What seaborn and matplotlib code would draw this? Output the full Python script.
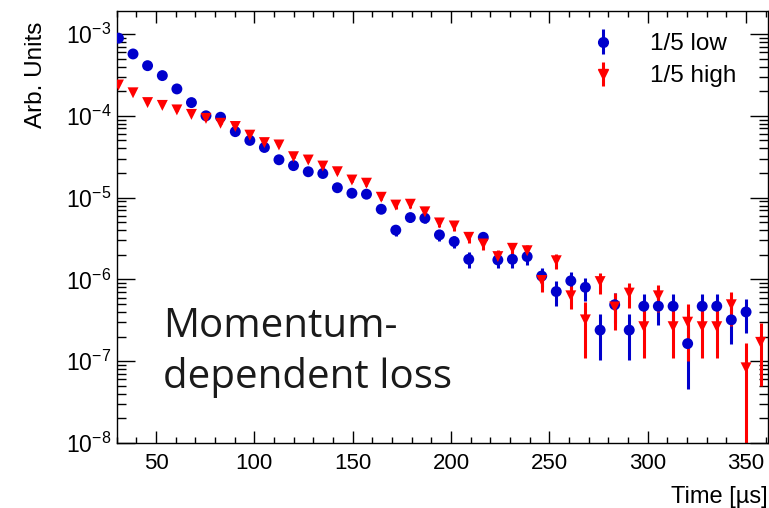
import numpy as np
import pandas as pd
import matplotlib
matplotlib.use("Agg")
import matplotlib.pyplot as plt
import matplotlib.ticker as mticker
import seaborn as sns

# ---- data ----
time_us = [30.9, 38.3, 45.7, 53.2, 60.6, 68.0, 75.4, 82.8, 90.3, 97.7,
           105.1, 112.5, 119.9, 127.4, 134.8, 142.2, 149.6, 157.0, 164.5, 171.9,
           179.3, 186.7, 194.1, 201.6, 209.0, 216.4, 223.8, 231.2, 238.7, 246.1,
           253.5, 260.9, 268.3, 275.8, 283.2, 290.6, 298.0, 305.4, 312.9, 320.3,
           327.7, 335.1, 342.5, 350.0, 357.4]

low_vals = [8.9e-4, 5.7e-4, 4.1e-4, 3.1e-4, 2.13e-4, 1.45e-4, 1.0e-4, 9.6e-5, 6.4e-5, 5.0e-5,
            4.1e-5, 2.9e-5, 2.46e-5, 2.07e-5, 1.97e-5, 1.32e-5, 1.13e-5, 1.10e-5, 7.2e-6, 4.0e-6,
            5.7e-6, 5.6e-6, 3.5e-6, 2.9e-6, 1.76e-6, 3.27e-6, 1.73e-6, 1.76e-6, 1.9e-6, 1.1e-6,
            7.1e-7, 9.6e-7, 8.0e-7, 2.4e-7, 4.9e-7, 2.4e-7, 4.7e-7, 4.7e-7, 4.7e-7, 1.64e-7,
            4.7e-7, 4.7e-7, 3.2e-7, 4.0e-7, np.nan]
low_errs = [8.4e-6, 6.7e-6, 5.7e-6, 4.9e-6, 4.1e-6, 3.4e-6, 2.8e-6, 2.75e-6, 2.25e-6, 2.0e-6,
            1.8e-6, 1.51e-6, 1.39e-6, 1.28e-6, 1.25e-6, 1.02e-6, 9.4e-7, 9.3e-7, 7.5e-7, 5.6e-7,
            6.7e-7, 6.6e-7, 5.3e-7, 4.8e-7, 3.73e-7, 5.08e-7, 3.7e-7, 3.73e-7, 3.87e-7, 2.95e-7,
            2.37e-7, 2.75e-7, 2.5e-7, 1.37e-7, 1.97e-7, 1.37e-7, 1.93e-7, 1.93e-7, 1.93e-7, 1.18e-7,
            1.93e-7, 1.93e-7, 1.59e-7, 1.78e-7, np.nan]

high_vals = [2.38e-4, 1.91e-4, 1.45e-4, 1.34e-4, 1.18e-4, 1.04e-4, 9.3e-5, 8.1e-5, 7.4e-5, 5.8e-5,
             4.7e-5, 4.4e-5, 3.16e-5, 2.88e-5, 2.43e-5, 2.07e-5, 1.64e-5, 1.50e-5, 1.01e-5, 8.1e-6,
             8.3e-6, 6.7e-6, 4.9e-6, 4.5e-6, 3.27e-6, 2.71e-6, 1.9e-6, 2.4e-6, 2.24e-6, 9.7e-7,
             1.69e-6, 6.3e-7, 3.2e-7, 9.4e-7, 4.6e-7, 6.8e-7, 2.64e-7, 6.3e-7, 2.64e-7, 3.0e-7,
             2.64e-7, 2.64e-7, 4.9e-7, 8.3e-8, 1.7e-7]
high_errs = [4.1e-6, 3.7e-6, 3.2e-6, 3.1e-6, 2.9e-6, 2.7e-6, 2.6e-6, 2.4e-6, 2.3e-6, 2.0e-6,
             1.8e-6, 1.75e-6, 1.5e-6, 1.4e-6, 1.3e-6, 1.2e-6, 1.07e-6, 1.02e-6, 8.4e-7, 7.5e-7,
             7.6e-7, 6.8e-7, 5.9e-7, 5.6e-7, 4.8e-7, 4.4e-7, 3.6e-7, 4.1e-7, 4.0e-7, 2.7e-7,
             3.6e-7, 1.9e-7, 2.1e-7, 2.7e-7, 2.2e-7, 2.3e-7, 1.56e-7, 2.3e-7, 1.56e-7, 2.0e-7,
             1.56e-7, 1.56e-7, 2.2e-7, 8.2e-8, 1.2e-7]

series_names = ["1/5 low", "1/5 high"]
series_colors = {"1/5 low": "#0000CC", "1/5 high": "#FF0000"}
series_markers = {"1/5 low": "o", "1/5 high": "v"}
x_label = "Time [\u00b5s]"
y_label = "Arb. Units"
note_lines = ["Momentum-", "dependent loss"]

# ---- style ----
sns.set_theme(style="ticks")
plt.rcParams["font.family"] = ["Liberation Sans", "DejaVu Sans"]
plt.rcParams["mathtext.default"] = "regular"
plt.rcParams["axes.linewidth"] = 1.0
plt.rcParams["text.color"] = "black"
plt.rcParams["axes.labelcolor"] = "black"
plt.rcParams["xtick.color"] = "black"
plt.rcParams["ytick.color"] = "black"
plt.rcParams["axes.edgecolor"] = "black"

df = pd.concat([
    pd.DataFrame({"t": time_us, "v": low_vals, "e": low_errs, "series": series_names[0]}),
    pd.DataFrame({"t": time_us, "v": high_vals, "e": high_errs, "series": series_names[1]}),
], ignore_index=True)

fig = plt.figure(figsize=(7.69, 5.08), dpi=100)
ax = fig.add_axes([116.7 / 769, 1 - 443 / 508, (767.7 - 116.7) / 769, (443 - 11) / 508])

for name in series_names:
    sub = df[df["series"] == name].dropna()
    ax.errorbar(sub["t"], sub["v"], yerr=sub["e"], fmt="none",
                ecolor=series_colors[name], elinewidth=2.2, capsize=0, zorder=2)

sns.scatterplot(data=df.dropna(), x="t", y="v", hue="series", style="series",
                hue_order=series_names, style_order=series_names,
                palette=series_colors, markers=series_markers,
                s=62, linewidth=0, edgecolor="none", legend=False, ax=ax, zorder=3)

ax.set_yscale("log")
ax.set_xlim(30, 361)
ax.set_ylim(1e-8, 1.91e-3)

ax.xaxis.set_major_locator(mticker.MultipleLocator(50))
ax.xaxis.set_minor_locator(mticker.MultipleLocator(10))
ax.yaxis.set_major_locator(mticker.LogLocator(base=10, numticks=12))
ax.yaxis.set_minor_locator(mticker.LogLocator(base=10, subs=np.arange(2, 10), numticks=12))
ax.yaxis.set_minor_formatter(mticker.NullFormatter())

ax.tick_params(axis="x", which="major", direction="in", length=8.6, width=1,
               top=True, bottom=True, labelsize=16, pad=7, color="black", labelcolor="black")
ax.tick_params(axis="x", which="minor", direction="in", length=4.5, width=1,
               top=True, bottom=True, color="black")
ax.tick_params(axis="y", which="major", direction="in", length=13, width=1,
               left=True, right=True, labelsize=16.5, pad=4, color="black", labelcolor="black")
ax.tick_params(axis="y", which="minor", direction="in", length=6.5, width=1,
               left=True, right=True, color="black")
for sp in ax.spines.values():
    sp.set_color("black")
    sp.set_visible(True)

ax.set_xlabel(x_label, loc="right", fontsize=17, labelpad=9, color="black")
ax.set_ylabel(y_label, loc="top", fontsize=17.5, color="black")
ax.yaxis.set_label_coords(-0.107, 0.975, transform=ax.transAxes)

# legend
handles = []
for name in series_names:
    h = ax.errorbar([np.nan], [np.nan], yerr=[np.nan], fmt=series_markers[name],
                    color=series_colors[name], ms=7, elinewidth=2.2, capsize=0,
                    label=name)
    handles.append(h)
leg = ax.legend(handles=handles, labels=series_names, loc="upper left",
                bbox_to_anchor=(586 / 769, 1 - 33 / 508), bbox_transform=fig.transFigure,
                frameon=False, fontsize=17.5, handlelength=1.4, handletextpad=1.25,
                labelspacing=0.42, borderpad=0, borderaxespad=0)
for t in leg.get_texts():
    t.set_color("black")

# annotation text
note_font = ["Open Sans", "DejaVu Sans"]
fig.text(163 / 769, 1 - 337 / 508, note_lines[0], fontsize=29, family=note_font,
         color="#1a1a1a", va="baseline", ha="left")
fig.text(163 / 769, 1 - 388 / 508, note_lines[1], fontsize=29, family=note_font,
         color="#1a1a1a", va="baseline", ha="left")

fig.savefig("out.png", dpi=100)
